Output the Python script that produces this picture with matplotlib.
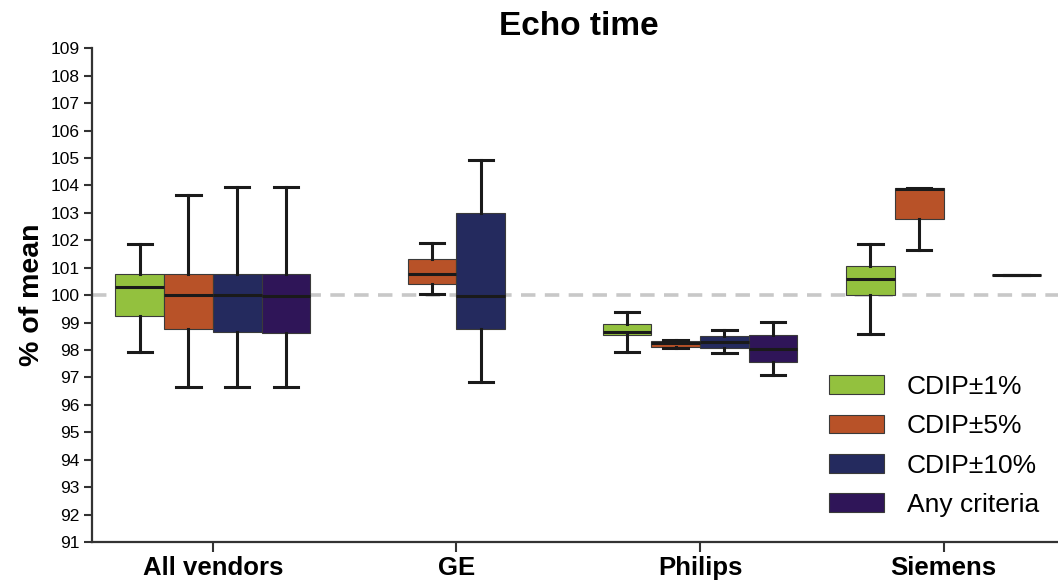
import matplotlib
matplotlib.use("Agg")
import matplotlib.pyplot as plt
from matplotlib.patches import Patch

plt.rcParams["font.family"] = ["Liberation Sans", "DejaVu Sans"]

vendors = ["All vendors", "GE", "Philips", "Siemens"]
criteria = ["CDIP±1%", "CDIP±5%", "CDIP±10%", "Any criteria"]
colors = ["#93C13E", "#B85228", "#242A5E", "#2F1558"]

# (whisker low, q1, median, q3, whisker high) per vendor, None = no box
cdip1 = [(97.92, 99.23, 100.31, 100.76, 101.85),
         None,
         (97.92, 98.53, 98.64, 98.96, 99.39),
         (98.58, 99.99, 100.60, 101.05, 101.85)]
cdip5 = [(96.64, 98.75, 100.00, 100.78, 103.65),
         (100.04, 100.42, 100.78, 101.33, 101.89),
         (98.08, 98.10, 98.27, 98.32, 98.35),
         (101.66, 102.76, 103.88, 103.89, 103.89)]
cdip10 = [(96.64, 98.65, 99.99, 100.78, 103.93),
          (96.82, 98.78, 99.96, 103.00, 104.94),
          (97.90, 98.08, 98.30, 98.50, 98.72),
          None]
any_crit = [(96.64, 98.63, 99.97, 100.78, 103.93),
            None,
            (97.08, 97.57, 98.04, 98.54, 99.01),
            (100.72, 100.72, 100.72, 100.72, 100.72)]

series = [cdip1, cdip5, cdip10, any_crit]
offsets = [-0.3, -0.1, 0.1, 0.3]

fig = plt.figure(figsize=(10.58, 5.81), dpi=100)
ax = fig.add_axes([0.087, 0.067, 0.913, 0.85])

ax.axhline(100, color="#C8C8C8", lw=2.6, dashes=(4, 2.6), zorder=0)

for vals, off, col in zip(series, offsets, colors):
    stats, pos = [], []
    for i, v in enumerate(vals):
        if v is None:
            continue
        lo, q1, med, q3, hi = v
        stats.append(dict(whislo=lo, q1=q1, med=med, q3=q3, whishi=hi, fliers=[]))
        pos.append(i + off)
    ax.bxp(stats, positions=pos, widths=0.2, capwidths=0.1, patch_artist=True,
           showfliers=False, manage_ticks=False,
           boxprops=dict(facecolor=col, edgecolor="#3a3a3a", linewidth=0.8),
           medianprops=dict(color="#1a1a1a", linewidth=2.2),
           whiskerprops=dict(color="#1a1a1a", linewidth=2.2),
           capprops=dict(color="#1a1a1a", linewidth=2.2))

ax.set_xlim(-0.496, 3.47)
ax.set_ylim(91, 109)
ax.set_yticks(range(91, 110))
ax.set_xticks(range(len(vendors)))
ax.set_xticklabels(vendors, fontsize=18.5, fontweight="bold")
ax.tick_params(axis="y", labelsize=12.5, length=6, width=1.5, color="#333333", pad=3)
ax.tick_params(axis="x", length=7, width=1.5, color="#333333", pad=3)
for s in ["top", "right"]:
    ax.spines[s].set_visible(False)
for s in ["left", "bottom"]:
    ax.spines[s].set_linewidth(1.6)
    ax.spines[s].set_color("#333333")

ax.set_ylabel("% of mean", fontsize=20.5, fontweight="bold", labelpad=4)
fig.text(0.547, 0.955, "Echo time", fontsize=24, fontweight="bold", ha="center", va="center")

handles = [Patch(facecolor=c, edgecolor="#3a3a3a", linewidth=0.8) for c in colors]
ax.legend(handles, criteria, loc="upper left", bbox_to_anchor=(829 / 1058, 1 - 375 / 581),
          bbox_transform=fig.transFigure, frameon=False, fontsize=19, borderpad=0,
          borderaxespad=0, handlelength=2.1, handleheight=0.72, handletextpad=0.85,
          labelspacing=0.58)

fig.savefig("out.png", dpi=100)
